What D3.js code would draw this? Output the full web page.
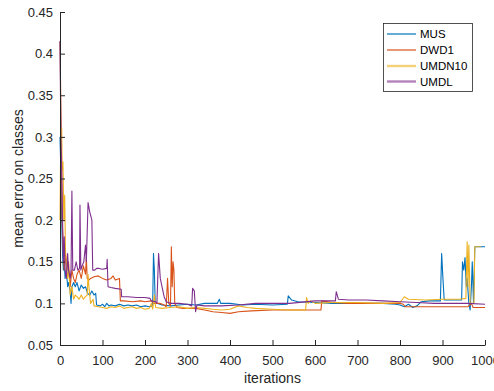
<!DOCTYPE html>
<html>
<head>
<meta charset="utf-8">
<script src="https://cdn.jsdelivr.net/npm/d3@7"></script>
<style>
  html, body { margin: 0; padding: 0; background: #fff; }
  svg { display: block; font-family: "Liberation Sans", Arial, Helvetica, sans-serif; }
</style>
</head>
<body>
<svg id="chart" width="494" height="391"></svg>
<script>
// Mean classification error per training iteration for four methods.
const seriesNames = ["MUS", "DWD1", "UMDN10", "UMDL"];
const seriesColors = ["#0072BD", "#D95319", "#EDB120", "#7E2F8E"];

const xTicks = [0, 100, 200, 300, 400, 500, 600, 700, 800, 900, 1000];
const yTicks = [0.05, 0.1, 0.15, 0.2, 0.25, 0.3, 0.35, 0.4, 0.45];

// [iteration, mean error]
const musData = [
  [0,0.30],[2,0.26],[4,0.2],[6,0.16],[8,0.14],[10,0.15],[12,0.13],[15,0.14],[18,0.12],[20,0.125],
  [24,0.115],[26,0.1],[28,0.12],[32,0.125],[36,0.12],[40,0.125],[45,0.115],[50,0.122],[55,0.118],
  [60,0.12],[65,0.112],[70,0.11],[75,0.115],[80,0.11],[84,0.112],[86,0.098],[95,0.097],[100,0.099],
  [105,0.096],[110,0.1],[115,0.097],[120,0.098],[130,0.097],[140,0.099],[150,0.097],[160,0.098],
  [170,0.097],[180,0.098],[190,0.096],[200,0.097],[210,0.096],[218,0.097],[220,0.16],[222,0.14],
  [224,0.1],[230,0.1],[240,0.098],[260,0.097],[280,0.098],[300,0.099],[320,0.098],[340,0.1],
  [370,0.1],[375,0.105],[378,0.1],[400,0.1],[430,0.098],[460,0.099],[500,0.098],[535,0.099],
  [537,0.109],[545,0.104],[560,0.102],[600,0.101],[640,0.1],[700,0.1],[760,0.1],[790,0.099],
  [800,0.098],[810,0.096],[820,0.099],[830,0.095],[840,0.097],[850,0.102],[870,0.103],[895,0.103],
  [898,0.16],[901,0.13],[904,0.104],[930,0.104],[945,0.104],[947,0.15],[950,0.14],[953,0.155],
  [956,0.12],[958,0.13],[962,0.1],[965,0.092],[968,0.12],[970,0.15],[973,0.1],[976,0.168],[1000,0.168]
];

const dwd1Data = [
  [0,0.415],[3,0.30],[5,0.2],[8,0.16],[10,0.14],[13,0.16],[16,0.14],[20,0.15],[24,0.12],[28,0.14],
  [32,0.13],[36,0.125],[40,0.135],[45,0.14],[50,0.13],[55,0.145],[60,0.135],[62,0.155],[64,0.13],
  [68,0.128],[72,0.13],[80,0.132],[90,0.133],[100,0.13],[110,0.128],[120,0.13],[125,0.133],
  [130,0.128],[140,0.13],[142,0.103],[150,0.103],[170,0.102],[190,0.103],[200,0.102],[215,0.103],
  [220,0.1],[235,0.1],[245,0.098],[250,0.096],[253,0.13],[256,0.1],[260,0.097],[262,0.168],
  [264,0.12],[266,0.15],[268,0.14],[270,0.1],[275,0.095],[290,0.094],[320,0.094],[340,0.092],
  [360,0.09],[380,0.089],[400,0.088],[420,0.09],[450,0.091],[500,0.092],[540,0.092],[580,0.092],
  [614,0.092],[616,0.103],[640,0.101],[680,0.1],[720,0.1],[760,0.1],[800,0.1],[808,0.099],
  [812,0.096],[860,0.096],[900,0.096],[960,0.096],[968,0.1],[972,0.095],[1000,0.095]
];

const umdn10Data = [
  [0,0.2],[2,0.31],[4,0.31],[5,0.26],[7,0.27],[9,0.2],[11,0.23],[13,0.16],[15,0.15],[18,0.13],
  [21,0.14],[24,0.11],[28,0.12],[32,0.105],[36,0.11],[40,0.108],[45,0.105],[50,0.11],[55,0.105],
  [60,0.108],[64,0.11],[66,0.135],[68,0.12],[72,0.1],[78,0.105],[80,0.097],[90,0.096],[100,0.095],
  [110,0.094],[120,0.096],[130,0.095],[140,0.097],[150,0.094],[160,0.095],[170,0.096],[180,0.094],
  [190,0.095],[200,0.093],[210,0.094],[215,0.1],[218,0.093],[222,0.11],[225,0.095],[240,0.094],
  [260,0.095],[280,0.096],[300,0.094],[320,0.095],[340,0.094],[360,0.093],[380,0.092],[400,0.093],
  [420,0.097],[440,0.095],[460,0.094],[500,0.093],[540,0.092],[578,0.092],[580,0.107],[584,0.1],
  [590,0.103],[600,0.1],[640,0.101],[700,0.101],[760,0.1],[800,0.101],[810,0.108],[820,0.105],
  [860,0.104],[900,0.105],[940,0.105],[955,0.106],[958,0.174],[960,0.12],[962,0.17],[965,0.1],
  [970,0.1],[974,0.1],[976,0.168],[990,0.168]
];

const umdlData = [
  [0,0.415],[2,0.3],[4,0.26],[6,0.2],[8,0.15],[10,0.18],[12,0.14],[15,0.13],[18,0.16],[20,0.14],
  [24,0.13],[26,0.14],[28,0.235],[30,0.14],[34,0.14],[38,0.15],[42,0.14],[46,0.142],[47,0.218],
  [49,0.14],[52,0.145],[56,0.15],[60,0.17],[62,0.15],[66,0.221],[70,0.21],[75,0.2],[77,0.14],
  [82,0.14],[86,0.142],[92,0.142],[100,0.141],[110,0.142],[111,0.153],[113,0.12],[120,0.119],
  [130,0.118],[144,0.117],[145,0.108],[160,0.108],[180,0.107],[200,0.107],[212,0.106],[215,0.103],
  [225,0.102],[228,0.1],[232,0.16],[236,0.13],[240,0.12],[245,0.108],[250,0.102],[260,0.1],
  [280,0.1],[300,0.099],[310,0.097],[312,0.118],[316,0.115],[319,0.09],[322,0.098],[340,0.097],
  [380,0.097],[420,0.098],[460,0.1],[500,0.1],[540,0.1],[600,0.103],[648,0.103],[650,0.114],
  [655,0.105],[680,0.104],[720,0.104],[760,0.103],[800,0.102],[840,0.101],[880,0.1],[920,0.1],
  [960,0.1],[1000,0.099]
];

const allSeries = [musData, dwd1Data, umdn10Data, umdlData];

const svg = d3.select("#chart");
const ink = "#262626";
const plotLeft = 60, plotRight = 485, plotTop = 12, plotBottom = 345;

const x = d3.scaleLinear().domain([0, 1000]).range([plotLeft, plotRight]);
const y = d3.scaleLinear().domain([0.05, 0.45]).range([plotBottom, plotTop]);

// Curves
const line = d3.line().x(d => x(d[0])).y(d => y(d[1]));
svg.append("g")
  .selectAll("path")
  .data(allSeries)
  .join("path")
  .attr("d", line)
  .attr("fill", "none")
  .attr("stroke", (d, i) => seriesColors[i])
  .attr("stroke-width", 1.1)
  .attr("stroke-linejoin", "round");

// Axes (ticks point inward)
const xAxis = svg.append("g")
  .attr("transform", `translate(0,${plotBottom})`)
  .call(d3.axisBottom(x).tickValues(xTicks).tickSizeInner(-5).tickSizeOuter(0).tickPadding(11)
    .tickFormat(d3.format("d")));
const yAxis = svg.append("g")
  .attr("transform", `translate(${plotLeft},0)`)
  .call(d3.axisLeft(y).tickValues(yTicks).tickSizeInner(-5).tickSizeOuter(0).tickPadding(7)
    .tickFormat(d => String(+d.toFixed(2))));

[xAxis, yAxis].forEach(g => {
  g.select(".domain").attr("stroke", ink).attr("stroke-width", 1);
  g.selectAll(".tick line").attr("stroke", ink);
  g.selectAll(".tick text").attr("fill", ink).style("font-size", "13px")
    .style("font-family", "'Liberation Sans', Arial, sans-serif");
});

// Axis titles
svg.append("text")
  .attr("x", (plotLeft + plotRight) / 2).attr("y", 383)
  .attr("text-anchor", "middle").attr("fill", ink)
  .style("font-size", "14px")
  .text("iterations");
svg.append("text")
  .attr("transform", `translate(23,${(plotTop + plotBottom) / 2}) rotate(-90)`)
  .attr("text-anchor", "middle").attr("fill", ink)
  .style("font-size", "14px")
  .text("mean error on classes");

// Legend
const legend = svg.append("g");
legend.append("rect")
  .attr("x", 383.5).attr("y", 23.5).attr("width", 89).attr("height", 68)
  .attr("fill", "#fff").attr("stroke", ink).attr("stroke-width", 0.8);
const legendRows = [34, 50, 66, 81.5];
const legendWidths = [1.2, 1.2, 2.4, 2.4];
const legendOpacity = [1, 1, 0.6, 0.6];
seriesNames.forEach((name, i) => {
  legend.append("line")
    .attr("x1", 387).attr("x2", 416)
    .attr("y1", legendRows[i]).attr("y2", legendRows[i])
    .attr("stroke", seriesColors[i])
    .attr("stroke-width", legendWidths[i])
    .attr("stroke-opacity", legendOpacity[i]);
  legend.append("text")
    .attr("x", 420).attr("y", legendRows[i])
    .attr("dy", "0.36em").attr("fill", "#000")
    .style("font-size", "11.5px")
    .text(name);
});
</script>
</body>
</html>
